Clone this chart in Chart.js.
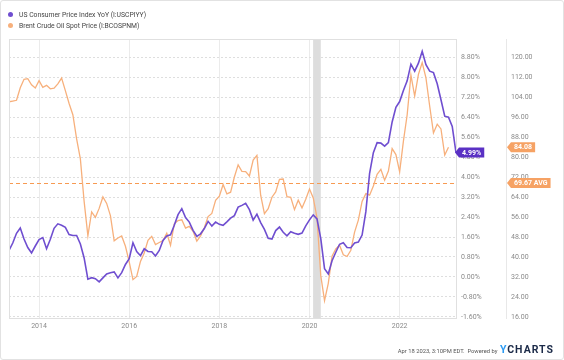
<!DOCTYPE html>
<html>
<head>
<meta charset="utf-8">
<script src="https://cdn.jsdelivr.net/npm/chart.js@4.4.0/dist/chart.umd.min.js"></script>
<style>
  html, body { margin: 0; padding: 0; background: #fff; }
  #wrap { position: relative; width: 564px; height: 360px; box-sizing: border-box; border: 1px solid #e2e2e2; border-radius: 3px; overflow: hidden; font-family: Roboto, "Noto Sans", sans-serif; }
  #chart { position: absolute; left: -1px; top: -1px; }
  #legend { position: absolute; left: 7px; top: 9px; font-size: 6.8px; color: #444; line-height: 11px; }
  #legend .dot { display: inline-block; width: 5px; height: 5px; border-radius: 50%; margin-right: 6px; vertical-align: 0px; }
  #footer { position: absolute; right: 9px; top: 342px; font-size: 5.8px; color: #555; white-space: nowrap; }
  #footer .brand { font-size: 10.5px; font-weight: 700; letter-spacing: 1px; color: #1b2a48; margin-left: 1px; }
  #footer .brand .y { color: #2b9af3; }
</style>
</head>
<body>
<div id="wrap">
  <canvas id="chart" width="564" height="360"></canvas>
  <div id="legend">
    <div><span class="dot" style="background:#6f4ed0"></span>US Consumer Price Index YoY (I:USCPIYY)</div>
    <div><span class="dot" style="background:#f7b07c"></span>Brent Crude Oil Spot Price (I:BCOSPNM)</div>
  </div>
  <div id="footer">Apr 18 2023, 3:10PM EDT. &nbsp;Powered by <span class="brand"><span class="y">Y</span>CHARTS</span></div>
</div>
<script>
// monthly series, first value = April 2013, plotted at month end
const startYear = 2013;
const startMonth = 4;

// US CPI YoY, %
const cpiYoY = [
  1.06, 1.36, 1.75, 1.96, 1.52, 1.18, 0.96, 1.24, 1.50,
  1.58, 1.13, 1.51, 1.95, 2.13, 2.07, 1.99, 1.70, 1.66, 1.66, 1.32, 0.76,
  -0.09, -0.03, -0.07, -0.20, -0.04, 0.12, 0.17, 0.20, -0.04, 0.17, 0.50, 0.73,
  1.37, 1.02, 0.85, 1.13, 1.02, 1.01, 0.84, 1.06, 1.46, 1.64, 1.69, 2.07,
  2.50, 2.74, 2.38, 2.20, 1.87, 1.63, 1.73, 1.94, 2.23, 2.04, 2.20, 2.11,
  2.07, 2.21, 2.36, 2.46, 2.80, 2.87, 2.95, 2.70, 2.28, 2.52, 2.18, 1.91,
  1.55, 1.52, 1.86, 2.00, 1.79, 1.65, 1.81, 1.75, 1.71, 1.76, 2.05, 2.29,
  2.49, 2.33, 1.54, 0.33, 0.12, 0.65, 0.99, 1.31, 1.37, 1.18, 1.17, 1.36,
  1.40, 1.68, 2.62, 4.16, 4.99, 5.39, 5.37, 5.25, 5.39, 6.22, 6.81, 7.04,
  7.48, 7.87, 8.54, 8.26, 8.58, 9.06, 8.52, 8.26, 8.20, 7.75, 7.11, 6.45,
  6.41, 6.04, 4.99
];

// Brent spot, USD/bbl (ends Jan 2023)
const brentPrice = [
  102.3, 102.6, 102.9, 107.9, 111.3, 111.6, 109.1, 107.8, 110.8,
  108.1, 108.9, 107.5, 107.8, 109.5, 111.8, 106.8, 101.6, 97.1, 87.4, 79.4, 62.3,
  48.5, 58.1, 55.9, 59.5, 64.1, 61.5, 56.6, 46.5, 47.6, 48.4, 44.3, 38.0,
  30.9, 32.2, 38.2, 41.6, 46.7, 48.3, 45.0, 45.8, 46.6, 49.5, 44.7, 53.3,
  54.6, 54.9, 51.6, 52.3, 50.3, 46.4, 48.5, 51.7, 56.2, 57.5, 62.7, 64.4,
  69.1, 65.3, 66.0, 72.1, 77.0, 74.4, 74.3, 72.5, 78.9, 80.8, 64.8, 57.4,
  59.4, 64.0, 66.1, 71.2, 71.3, 64.2, 63.9, 59.0, 62.8, 59.7, 63.2, 67.3,
  63.7, 55.7, 32.5, 22.5, 29.4, 40.3, 43.2, 44.7, 40.9, 40.2, 42.7, 50.0,
  54.8, 62.3, 65.4, 64.8, 68.5, 73.2, 75.2, 70.8, 74.5, 83.5, 81.1, 74.2,
  86.5, 97.1, 113.0, 104.6, 113.3, 118.0, 111.9, 100.5, 89.8, 93.3, 91.4, 80.9,
  84.08
];

const brentAvg = 69.67;
const recession = [2020.08, 2020.25];

const xTicks = [2014, 2016, 2018, 2020, 2022];
const pctTicks = [-1.6, -0.8, 0, 0.8, 1.6, 2.4, 3.2, 4.0, 4.8, 5.6, 6.4, 7.2, 8.0, 8.8];
const usdTicks = [16, 24, 32, 40, 48, 56, 64, 72, 80, 88, 96, 104, 112, 120];

const purple = '#6f4ed0';
const orange = '#f7b07c';
const tagOrange = '#f6a264';
const axisGray = '#8a8a8a';

function monthEnd(i) { return startYear + (startMonth + i) / 12; }

const cpiPoints = cpiYoY.map((v, i) => ({ x: monthEnd(i), y: v }));
const brentPoints = brentPrice.map((v, i) => ({ x: monthEnd(i), y: v }));

function tag(ctx, tipX, yc, text, color) {
  ctx.font = 'bold 7px Roboto, sans-serif';
  const w = ctx.measureText(text).width + 6;
  const h = 10;
  ctx.fillStyle = color;
  ctx.beginPath();
  ctx.moveTo(tipX, yc);
  ctx.lineTo(tipX + 4, yc - h / 2);
  ctx.lineTo(tipX + 4 + w, yc - h / 2);
  ctx.lineTo(tipX + 4 + w, yc + h / 2);
  ctx.lineTo(tipX + 4, yc + h / 2);
  ctx.closePath();
  ctx.fill();
  ctx.fillStyle = '#fff';
  ctx.textAlign = 'left';
  ctx.textBaseline = 'middle';
  ctx.fillText(text, tipX + 7, yc + 0.5);
}

const overlays = {
  id: 'overlays',
  beforeDatasetsDraw(chart) {
    const { ctx, chartArea: a, scales: { x, y1 } } = chart;
    ctx.save();
    const x0 = x.getPixelForValue(recession[0]);
    const x1 = x.getPixelForValue(recession[1]);
    ctx.fillStyle = '#dddddd';
    ctx.fillRect(x0, a.top, x1 - x0, a.bottom - a.top);

    // average line, dashed
    const ya = Math.round(y1.getPixelForValue(brentAvg)) + 0.5;
    ctx.strokeStyle = '#f79a52';
    ctx.lineWidth = 1.2;
    ctx.setLineDash([4, 3]);
    ctx.beginPath();
    ctx.moveTo(a.left, ya);
    ctx.lineTo(a.right, ya);
    ctx.stroke();
    ctx.restore();
  },
  afterDraw(chart) {
    const { ctx, chartArea: a, scales: { y, y1 } } = chart;
    ctx.save();
    ctx.strokeStyle = '#e0e0e0';
    ctx.lineWidth = 1;
    ctx.strokeRect(Math.round(a.left) + 0.5, Math.round(a.top) + 0.5, Math.round(a.right - a.left), Math.round(a.bottom - a.top));

    const lastCpi = cpiYoY[cpiYoY.length - 1];
    const lastBrent = brentPrice[brentPrice.length - 1];
    tag(ctx, a.right - 1, y.getPixelForValue(lastCpi), lastCpi.toFixed(2) + '%', '#5a31c4');
    tag(ctx, y1.left + 1, y1.getPixelForValue(lastBrent), lastBrent.toFixed(2), tagOrange);
    tag(ctx, y1.left + 1, y1.getPixelForValue(brentAvg), brentAvg.toFixed(2) + ' AVG', tagOrange);
    ctx.restore();
  }
};

new Chart(document.getElementById('chart'), {
  type: 'line',
  data: {
    datasets: [
      { label: 'US Consumer Price Index YoY (I:USCPIYY)', data: cpiPoints, yAxisID: 'y',
        borderColor: purple, borderWidth: 1.6, pointRadius: 0, tension: 0 },
      { label: 'Brent Crude Oil Spot Price (I:BCOSPNM)', data: brentPoints, yAxisID: 'y1',
        borderColor: orange, borderWidth: 1.3, pointRadius: 0, tension: 0 }
    ]
  },
  options: {
    responsive: false,
    animation: false,
    layout: { padding: { left: 9, top: 39, right: 0, bottom: 20 } },
    plugins: { legend: { display: false }, tooltip: { enabled: false } },
    scales: {
      x: {
        type: 'linear',
        min: monthEnd(0),
        max: monthEnd(cpiYoY.length - 1),
        afterBuildTicks: axis => { axis.ticks = xTicks.map(v => ({ value: v })); },
        afterFit: axis => { axis.height = 22; },
        ticks: { callback: v => String(v), color: axisGray, font: { size: 7, family: 'Roboto' }, padding: 4, maxRotation: 0, autoSkip: false },
        grid: { color: '#ebebeb', drawTicks: false },
        border: { display: false }
      },
      y: {
        position: 'right',
        min: -1.65,
        max: 9.55,
        afterBuildTicks: axis => { axis.ticks = pctTicks.map(v => ({ value: v })); },
        afterFit: axis => { axis.width = 50; },
        ticks: { callback: v => v.toFixed(2) + '%', color: axisGray, font: { size: 7, family: 'Roboto' }, padding: 5, autoSkip: false },
        grid: { color: '#dedede', drawTicks: false },
        border: { display: false, dash: [2, 2] }
      },
      y1: {
        position: 'right',
        min: 15.5,
        max: 127.5,
        afterBuildTicks: axis => { axis.ticks = usdTicks.map(v => ({ value: v })); },
        afterFit: axis => { axis.width = 58; },
        ticks: { callback: v => v.toFixed(2), color: axisGray, font: { size: 7, family: 'Roboto' }, padding: 5, autoSkip: false },
        grid: { display: false, drawTicks: false },
        border: { display: true, color: '#e8e8e8' }
      }
    }
  },
  plugins: [overlays]
});
</script>
</body>
</html>
